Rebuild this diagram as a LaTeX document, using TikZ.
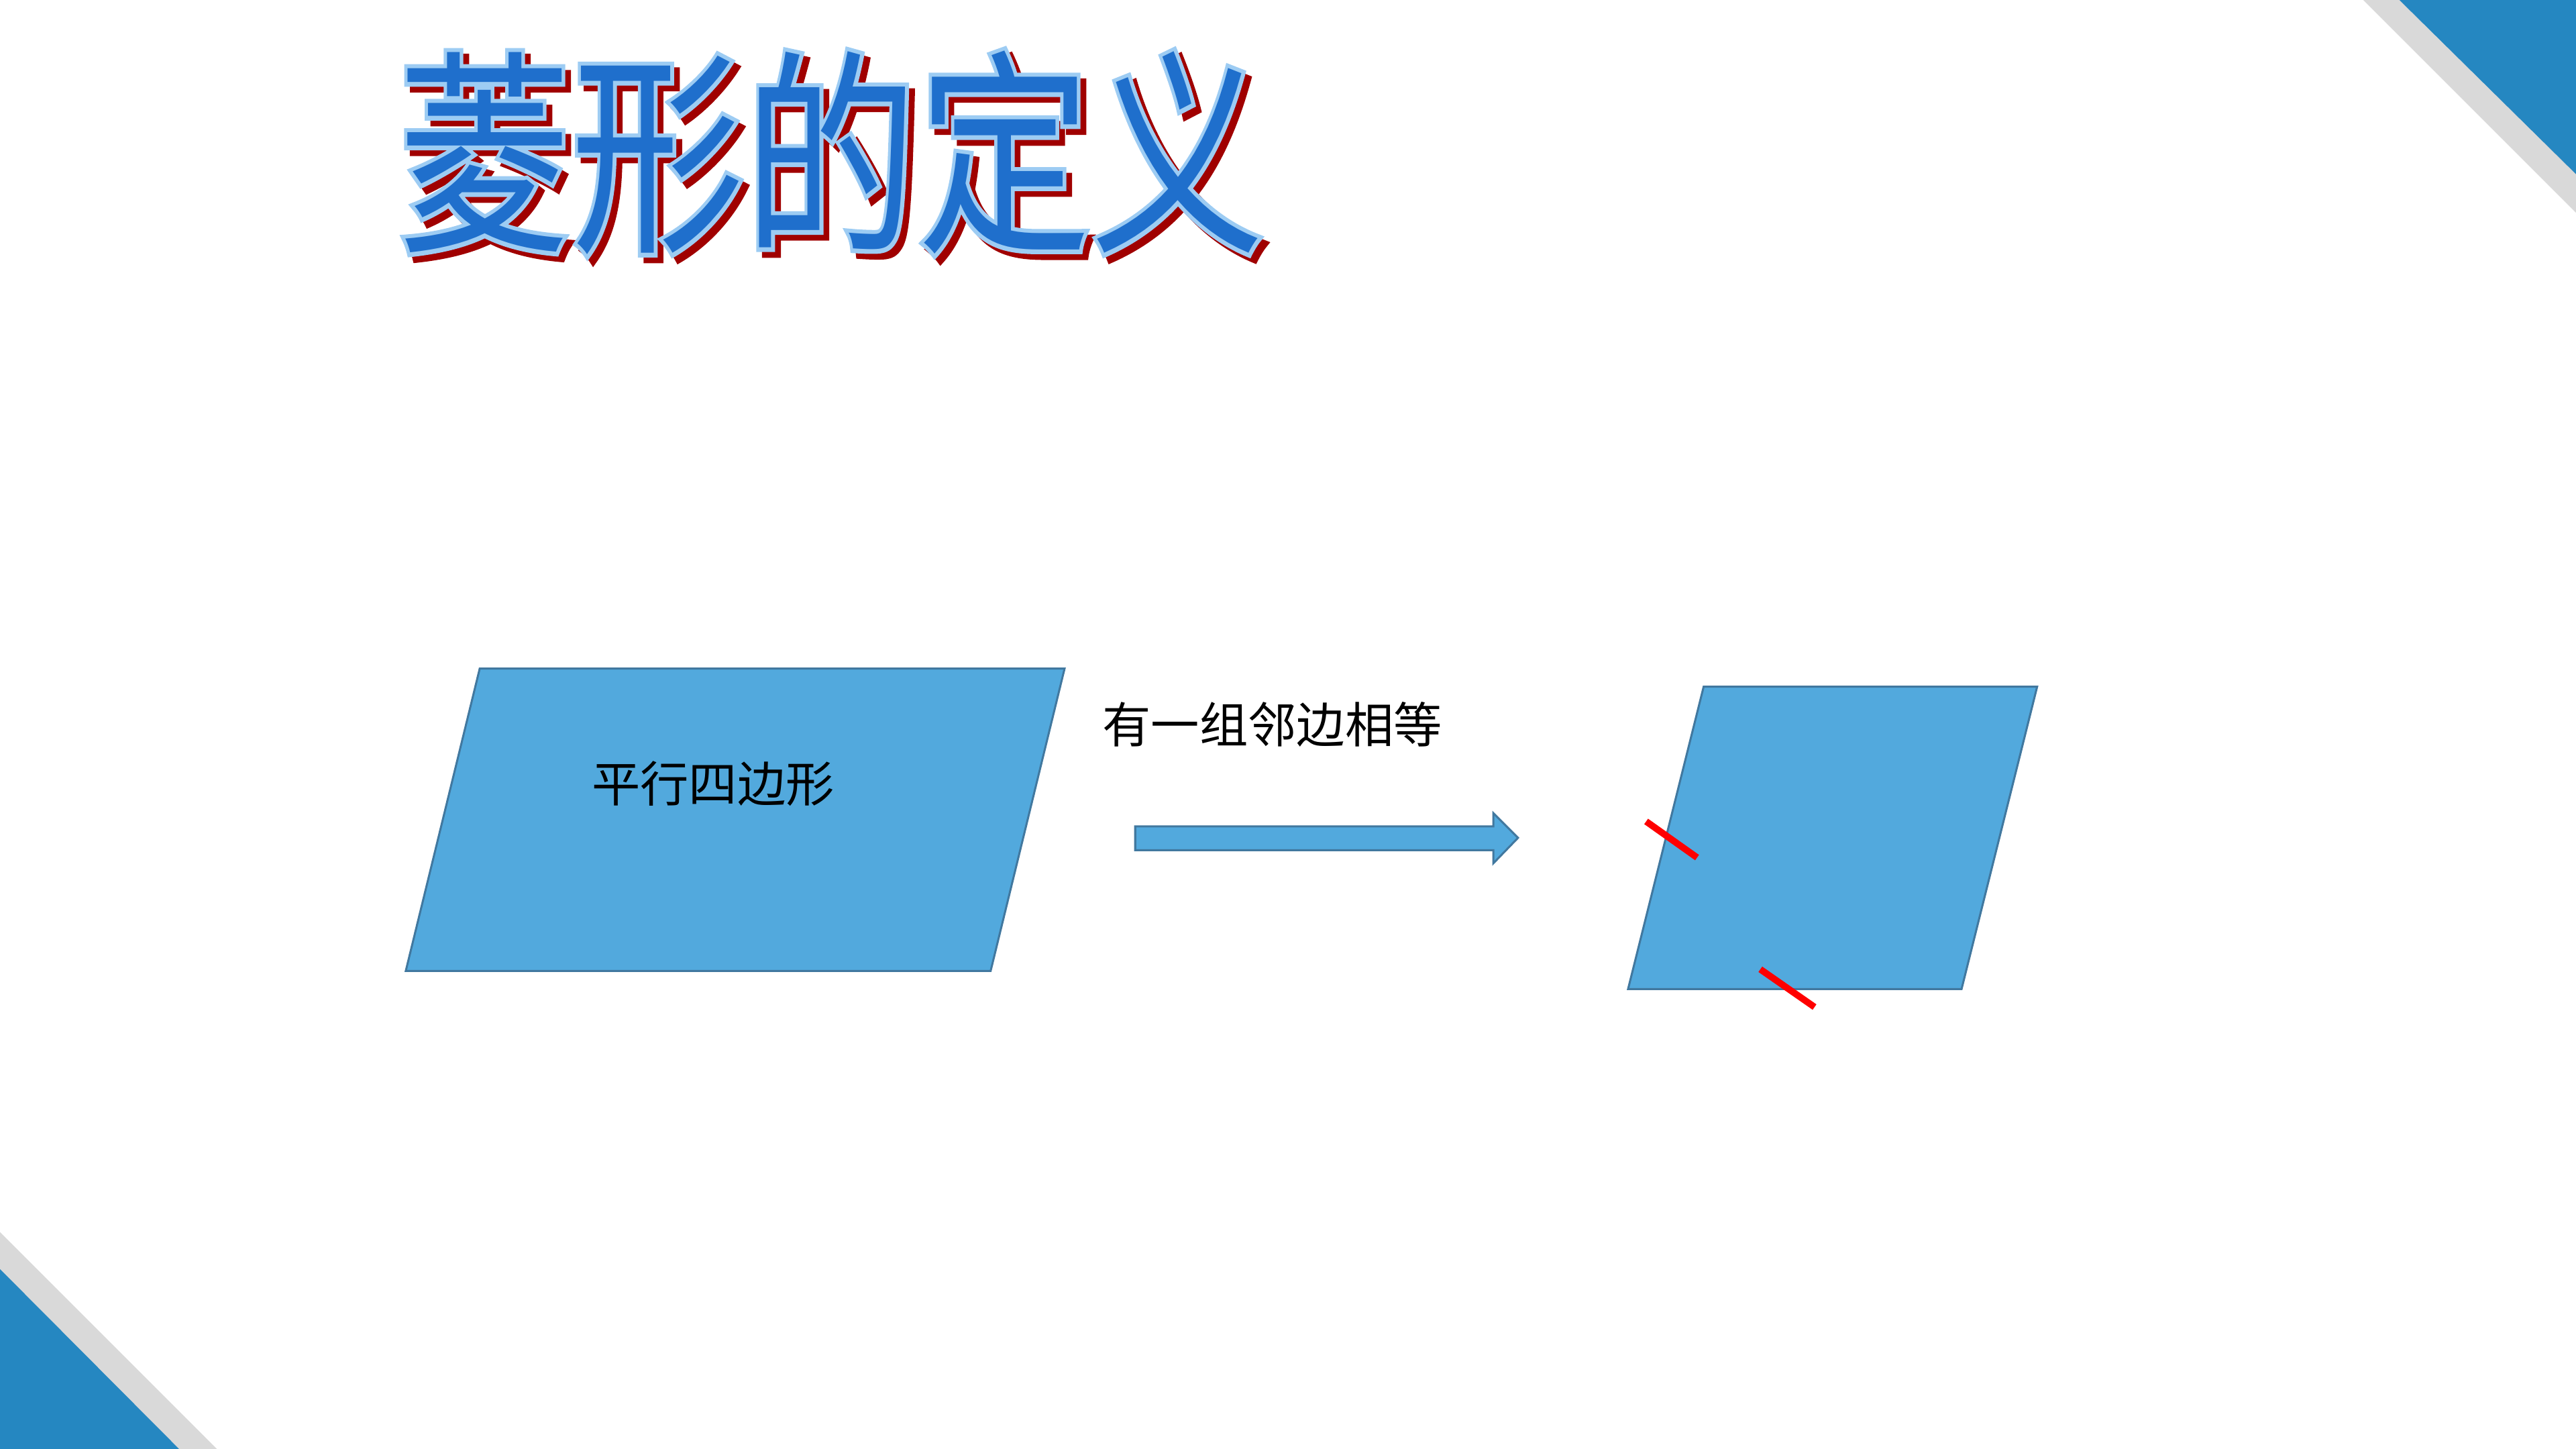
\documentclass[tikz,border=0pt]{standalone}
\usepackage{fontspec}
\newfontfamily\cjk{Noto Sans CJK SC}
\newfontfamily\cjkrim[FakeBold=4]{Noto Sans CJK SC}
\definecolor{cornerblue}{HTML}{2587C1}
\definecolor{cornergray}{HTML}{D9D9D9}
\definecolor{shapefill}{HTML}{52A9DD}
\definecolor{shapeline}{HTML}{41789F}
\definecolor{titleblue}{HTML}{1F6FCC}
\definecolor{titlerim}{HTML}{9DCCF3}
\definecolor{titleshade}{HTML}{A00000}
\newcommand{\titletext}{\scalebox{1}[1.26]{菱形的定义}}
\tikzset{
  quad/.style={fill=shapefill,draw=shapeline,line width=0.35pt,line join=miter},
  eqmark/.style={red,line width=1.15pt},
  cjktext/.style={font=\cjk\fontsize{8.4}{10}\selectfont,inner sep=0pt},
  headline/.style={font=\cjk\fontsize{30}{36}\selectfont,inner sep=0pt},
  headrim/.style={font=\cjkrim\fontsize{30}{36}\selectfont,inner sep=0pt}
}
\begin{document}
\begin{tikzpicture}[x=0.01cm,y=-0.01cm]
\useasboundingbox (0,0) rectangle (1568,882);
% corners
\fill[cornergray] (1438.5,0) -- (1568,0) -- (1568,129.5) -- cycle;
\fill[cornerblue] (1460.5,0) -- (1568,0) -- (1568,106) -- cycle;
\fill[cornergray] (0,750) -- (0,882) -- (132,882) -- cycle;
\fill[cornerblue] (0,772.5) -- (0,882) -- (109,882) -- cycle;
% title
\node[headrim,text=titleshade] (shade) at (509.5,96.5) {\titletext};
\node[headrim,text=titlerim] (rim) at (506,93) {\titletext};
\node[headline,text=titleblue] (title) at (506,93) {\titletext};
% parallelogram
\coordinate (p1) at (292,407);
\coordinate (p2) at (648,407);
\coordinate (p3) at (603,591);
\coordinate (p4) at (247,591);
\draw[quad] (p1) -- (p2) -- (p3) -- (p4) -- cycle;
\node[cjktext] (pname) at (434,477) {平行四边形};
% arrow
\node[cjktext] (cond) at (774.5,441) {有一组邻边相等};
\draw[quad] (691,503) -- (909,503) -- (909,495) -- (924,510) -- (909,525.5) -- (909,517.5) -- (691,517.5) -- cycle;
% rhombus
\coordinate (r1) at (1037,418);
\coordinate (r2) at (1240,418);
\coordinate (r3) at (1194,602);
\coordinate (r4) at (991,602);
\draw[quad] (r1) -- (r2) -- (r3) -- (r4) -- cycle;
\draw[eqmark] (1002,500) -- (1033,522);
\draw[eqmark] (1071.5,590) -- (1104.5,613);
\end{tikzpicture}
\end{document}
